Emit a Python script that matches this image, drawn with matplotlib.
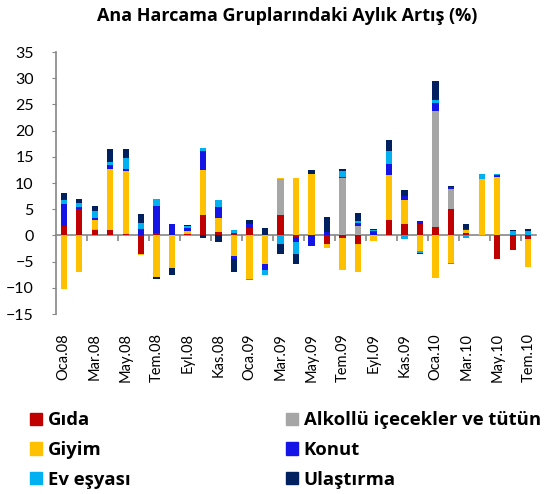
import numpy as np
import matplotlib.pyplot as plt
from matplotlib.patches import Patch

# monthly change by main expenditure group, Jan 2008 - Jul 2010
months = ["Oca", "Şub", "Mar", "Nis", "May", "Haz", "Tem", "Ağu", "Eyl", "Eki", "Kas", "Ara"]
years = ["08", "09", "10"]
labels = [m + "." + y for y in years for m in months][:31]

gida = [1.8, 5.0, 1.1, 1.0, 0.2, -3.5, 0.4, 0, 0.2, 3.8, 0.7, 0.4, 1.35, 0, 3.8, -0.3,
        0, -1.6, -0.5, -1.6, 0, 3.0, 2.1, 2.2, 1.6, 5.0, 0.5, 0, -4.45, -2.7, -0.7]
alkol = [0, 0, 0.15, 0, 0, 0, 0, 0, 0, 0, 0, 0, 0, 0, 7.0, 0,
         0, 0, 10.95, 1.7, 0, 0, 0, 0, 22.2, 3.8, 0, 0, 0, 0, 0]
giyim = [-10.2, -6.9, 1.75, 11.7, 12.1, -0.3, -8.0, -6.2, 0.6, 8.6, 2.6, -4.0, -8.3, -5.5, 0.1, 10.95,
         11.7, -0.8, -6.1, -5.3, -1.0, 8.5, 4.6, -2.9, -8.15, -5.3, 0.6, 10.7, 11.1, 0, -5.3]
konut = [4.2, 0.4, 0.25, 0.8, 0.4, 1.2, 5.3, 2.1, 0.6, 3.8, 2.05, -0.5, 0.85, -1.1, 0, -1.0,
         -2.0, 0.7, 0.15, 0.75, 0.75, 2.1, 0.8, 0.5, 1.4, 0.4, 0.2, 0.1, 0.35, 0, 0]
ev = [0.7, 0.85, 1.35, 0.5, 2.1, 1.2, 1.2, 0, 0.45, 0.4, 1.45, 0.7, -0.2, -1.0, -1.6, -2.3,
      0, 0, 1.1, 0.25, 0.35, 2.5, -0.75, -0.4, 0.7, -0.2, -0.45, 0.85, 0.25, 0.75, 0.75]
ulas = [1.4, 0.65, 1.1, 2.4, 1.6, 1.6, -0.3, -1.4, 0.15, -0.5, -1.3, -2.4, 0.8, 1.5, -2.0, -1.8,
        0.8, 2.9, 0.5, 1.6, 0.2, 2.2, 1.2, -0.2, 3.6, 0.3, 0.9, 0, 0, 0.3, 0.55]

series = [("Gıda", gida, "#C00000"),
          ("Alkollü içecekler ve tütün", alkol, "#A6A6A6"),
          ("Giyim", giyim, "#FFC000"),
          ("Konut", konut, "#1414E6"),
          ("Ev eşyası", ev, "#00B0F0"),
          ("Ulaştırma", ulas, "#002060")]

plt.rcParams['font.family'] = ['Lato', 'DejaVu Sans']

fig = plt.figure(figsize=(5.47, 4.94), dpi=100)
ax = fig.add_axes([56 / 547, 1 - 314 / 494, 480 / 547, 262 / 494])

x = np.arange(len(labels))
pos_bottom = np.zeros(len(x))
neg_bottom = np.zeros(len(x))
for name, vals, col in series:
    v = np.array(vals, dtype=float)
    pos = np.where(v > 0, v, 0)
    neg = np.where(v < 0, v, 0)
    ax.bar(x, pos, 0.41, bottom=pos_bottom, color=col, linewidth=0)
    ax.bar(x, neg, 0.41, bottom=neg_bottom, color=col, linewidth=0)
    pos_bottom += pos
    neg_bottom += neg

ax.set_xlim(-0.5, len(x) - 0.5)
ax.set_ylim(-15, 35)
ax.set_yticks(np.arange(-15, 36, 5))
ax.tick_params(axis='y', length=3, color='#868686', pad=13, labelsize=11.5)
ax.set_xticks(x[::2])
ax.set_xticklabels(labels[::2], rotation=90, fontsize=10.5)
ax.tick_params(axis='x', length=0, pad=14)

for s in ['top', 'right', 'bottom']:
    ax.spines[s].set_visible(False)
ax.spines['left'].set_color('#868686')
ax.spines['left'].set_linewidth(1.2)

# zero line with category tick marks
sec = ax.secondary_xaxis(0, transform=ax.transData)
sec.set_xticks(np.arange(1.5, len(x), 2))
sec.set_xticklabels([])
sec.tick_params(length=4, width=1.2, color='#868686', direction='out')
sec.spines['bottom'].set_color('#868686')
sec.spines['bottom'].set_linewidth(1.2)

bold = {'family': ['Open Sans', 'DejaVu Sans'], 'weight': 'bold', 'size': 13.3}
fig.text(0.525, 1 - 16 / 494, "Ana Harcama Gruplarındaki Aylık Artış (%)",
         ha='center', va='center', fontdict=dict(bold, size=13))

handles = [Patch(color=c, label=n) for n, v, c in series]
left = [handles[0], handles[2], handles[4]]
right = [handles[1], handles[3], handles[5]]
for hs, xpos in [(left, 30 / 547), (right, 286 / 547)]:
    fig.legend(handles=hs, loc='center left', bbox_to_anchor=(xpos, 1 - 450 / 494),
               frameon=False, borderpad=0, borderaxespad=0, handlelength=0.65,
               handleheight=0.65, handletextpad=0.3, labelspacing=0.64,
               prop=bold)

fig.savefig("out.png", dpi=100)
